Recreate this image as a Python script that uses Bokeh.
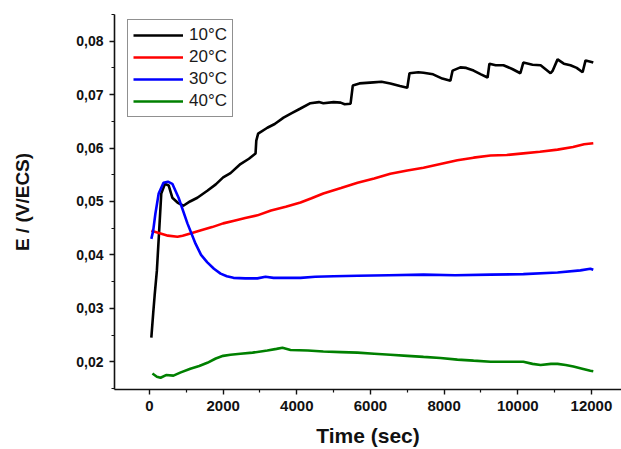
from bokeh.plotting import figure
from bokeh.models import (Range1d, FixedTicker, CustomJSTickFormatter, Legend, LegendItem)
from bokeh.embed import file_html
from bokeh.resources import INLINE

# ---- data ----
t_10 = [50, 100, 140, 200, 250, 320, 420, 520, 620, 760, 920, 1100, 1300, 1570, 1800, 2000,
        2200, 2470, 2700, 2880, 2900, 2950, 3200, 3400, 3640, 3850, 4100, 4370, 4600, 4720,
        5000, 5190, 5300, 5460, 5520, 5700, 6080, 6300, 6540, 6800, 7000, 7060, 7300, 7440,
        7700, 7950, 8170, 8230, 8440, 8600, 8800, 9000, 9180, 9230, 9400, 9610, 9850, 10070,
        10150, 10400, 10620, 10890, 10950, 11080, 11250, 11430, 11600, 11760, 11840, 11950, 12050]
e_10 = [0.0245, 0.0290, 0.0324, 0.0370, 0.0430, 0.0515, 0.0533, 0.0530, 0.0507, 0.0498, 0.0492,
        0.0500, 0.0507, 0.0520, 0.0532, 0.0545, 0.0553, 0.0570, 0.0580, 0.0590, 0.0614, 0.0627,
        0.0638, 0.0645, 0.0657, 0.0665, 0.0674, 0.0684, 0.0686, 0.0684, 0.0686, 0.0685, 0.0682,
        0.0683, 0.0717, 0.0721, 0.0723, 0.0724, 0.0721, 0.0716, 0.0713, 0.0740, 0.0742, 0.0741,
        0.0738, 0.0730, 0.0726, 0.0745, 0.0751, 0.0750, 0.0745, 0.0738, 0.0732, 0.0758, 0.0755,
        0.0755, 0.0748, 0.0740, 0.0760, 0.0756, 0.0755, 0.0740, 0.0745, 0.0766, 0.0758, 0.0755,
        0.0750, 0.0742, 0.0764, 0.0762, 0.0760]

t_20 = [50, 300, 500, 760, 900, 1110, 1400, 1700, 2000, 2300, 2600, 2930, 3300, 3700, 4100,
        4400, 4720, 5200, 5650, 6100, 6540, 7000, 7440, 7900, 8360, 8800, 9260, 9700, 10150,
        10600, 11080, 11500, 11800, 12050]
e_20 = [0.0445, 0.0440, 0.0436, 0.0434, 0.0436, 0.0440, 0.0446, 0.0452, 0.0459, 0.0464, 0.0469,
        0.0474, 0.0483, 0.0490, 0.0498, 0.0506, 0.0515, 0.0525, 0.0535, 0.0543, 0.0552, 0.0558,
        0.0563, 0.0570, 0.0577, 0.0582, 0.0586, 0.0587, 0.0590, 0.0593, 0.0597, 0.0602, 0.0607,
        0.0609]

t_30 = [50, 100, 160, 250, 380, 500, 620, 790, 1030, 1250, 1400, 1570, 1750, 1930, 2100, 2280,
        2600, 2930, 3150, 3370, 3700, 4100, 4500, 5000, 5650, 6500, 7440, 8300, 9260, 10150,
        11080, 11700, 11970, 12050]
e_30 = [0.0430, 0.0445, 0.0477, 0.0515, 0.0535, 0.0537, 0.0533, 0.0507, 0.0459, 0.0421, 0.0400,
        0.0386, 0.0374, 0.0365, 0.0360, 0.0357, 0.0356, 0.0356, 0.0359, 0.0357, 0.0357, 0.0357,
        0.0359, 0.0360, 0.0361, 0.0362, 0.0363, 0.0362, 0.0363, 0.0364, 0.0367, 0.0371, 0.0374,
        0.0372]

t_40 = [80, 200, 300, 450, 650, 850, 1110, 1350, 1570, 1800, 2000, 2200, 2470, 2800, 3200, 3450,
        3610, 3830, 4300, 4720, 5200, 5650, 6100, 6540, 7000, 7440, 7900, 8360, 8800, 9260, 9700,
        10150, 10400, 10620, 10900, 11080, 11300, 11510, 11750, 11970, 12050]
e_40 = [0.0178, 0.0172, 0.0170, 0.0175, 0.0174, 0.0180, 0.0187, 0.0192, 0.0198, 0.0206, 0.0211,
        0.0213, 0.0215, 0.0217, 0.0221, 0.0224, 0.0226, 0.0222, 0.0221, 0.0219, 0.0218, 0.0217,
        0.0215, 0.0213, 0.0211, 0.0209, 0.0207, 0.0204, 0.0202, 0.0200, 0.0200, 0.0200, 0.0196,
        0.0194, 0.0196, 0.0196, 0.0194, 0.0191, 0.0187, 0.0183, 0.0182]

labels = ["10°C", "20°C", "30°C", "40°C"]
colors = ["#000000", "#ff0000", "#0000ff", "#008000"]
x_ticks = [0, 2000, 4000, 6000, 8000, 10000, 12000]
y_ticks = [0.02, 0.03, 0.04, 0.05, 0.06, 0.07, 0.08]

p = figure(width=621, height=449, output_backend="svg", toolbar_location=None,
           x_range=Range1d(-950, 12816), y_range=Range1d(0.0148, 0.0850),
           min_border_left=114, min_border_bottom=60, min_border_top=14, min_border_right=0)
p.outline_line_color = None
p.xgrid.visible = False
p.ygrid.visible = False
p.background_fill_color = "white"
p.border_fill_color = "white"

series = [(t_10, e_10), (t_20, e_20), (t_30, e_30), (t_40, e_40)]
renderers = []
for (tx, ey), c in zip(series, colors):
    r = p.line(tx, ey, line_color=c, line_width=2.6)
    renderers.append(r)

fmt = CustomJSTickFormatter(code="return tick.toFixed(2).replace('.', ',');")
p.yaxis.ticker = FixedTicker(ticks=y_ticks, minor_ticks=[0.015 + 0.01 * i for i in range(8)])
p.yaxis.formatter = fmt
p.xaxis.ticker = FixedTicker(ticks=x_ticks, minor_ticks=[-1000 + 2000 * i for i in range(8)])

for ax in (p.xaxis[0], p.yaxis[0]):
    ax.axis_line_width = 1.6
    ax.axis_line_color = "#111111"
    ax.major_tick_line_color = "#111111"
    ax.minor_tick_line_color = "#111111"
    ax.major_tick_line_width = 1.4
    ax.minor_tick_line_width = 1.2
    ax.major_tick_out = 5
    ax.major_tick_in = 0
    ax.minor_tick_out = 3
    ax.minor_tick_in = 0
    ax.major_label_text_font = "Liberation Sans"
    ax.major_label_text_font_style = "bold"
    ax.major_label_text_color = "#111111"
    ax.axis_label_text_font = "Liberation Sans"
    ax.axis_label_text_font_style = "bold"
    ax.axis_label_text_color = "#111111"

p.xaxis.major_label_text_font_size = "15px"
p.yaxis.major_label_text_font_size = "14px"
p.xaxis.axis_label = "Time (sec)"
p.yaxis.axis_label = "E / (V/ECS)"
p.xaxis.axis_label_text_font_size = "21px"
p.yaxis.axis_label_text_font_size = "19px"
p.xaxis.axis_label_standoff = 10
p.yaxis.axis_label_standoff = 40
p.yaxis.major_label_standoff = 6
p.xaxis.major_label_standoff = 6

legend = Legend(items=[LegendItem(label=l, renderers=[r]) for l, r in zip(labels, renderers)],
                location=(13, 272))
legend.border_line_color = "#222222"
legend.border_line_width = 1.2
legend.background_fill_alpha = 1.0
legend.label_text_font = "Liberation Sans"
legend.label_text_font_size = "17px"
legend.label_text_color = "#1a1a1a"
legend.glyph_width = 50
legend.glyph_height = 20
legend.label_height = 20
legend.label_standoff = 6
legend.spacing = 2
legend.padding = 5
legend.margin = 0
p.add_layout(legend, "center")

open("out.html", "w").write(file_html(p, INLINE))
